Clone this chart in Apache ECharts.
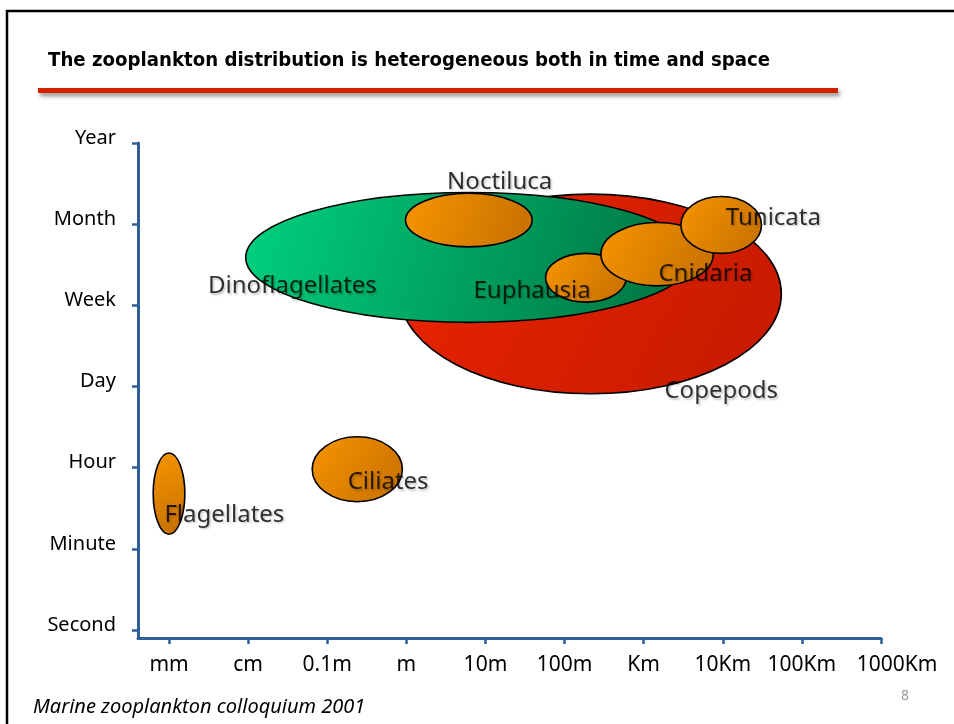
<!DOCTYPE html>
<html>
<head>
<meta charset="utf-8">
<script src="https://cdn.jsdelivr.net/npm/echarts@6/dist/echarts.min.js"></script>
<style>
  html, body { margin: 0; padding: 0; background: #ffffff; }
  #chart { width: 954px; height: 724px; }
</style>
</head>
<body>
<div id="chart"></div>
<script>
// Axis scales (log-like steps of body size and of time)
const sizeScales = ['mm', 'cm', '0.1m', 'm', '10m', '100m', 'Km', '10Km', '100Km', '1000Km'];
const timeScales = ['Second', 'Minute', 'Hour', 'Day', 'Week', 'Month', 'Year'];

// Groups, drawn back to front
const groups      = ['Copepods', 'Dinoflagellates', 'Noctiluca', 'Euphausia', 'Cnidaria', 'Tunicata', 'Ciliates', 'Flagellates'];
// Centre of each group's range, in axis steps
const centerSize  = [5.33, 3.80, 3.79, 5.27, 6.17, 6.98, 2.38, 0.00];
const centerTime  = [4.14, 4.59, 5.05, 4.34, 4.63, 4.99, 1.98, 1.68];
// Half-extent of each group's range, in axis steps
const spreadSize  = [2.41, 2.83, 0.80, 0.51, 0.71, 0.51, 0.57, 0.20];
const spreadTime  = [1.23, 0.80, 0.33, 0.30, 0.39, 0.35, 0.40, 0.50];
// Where each group's name sits, in axis steps
const nameSize    = [6.98, 1.56, 4.18, 4.59, 6.78, 7.64, 2.77, 0.70];
const nameTime    = [2.94, 4.23, 5.52, 4.18, 4.39, 5.08, 1.82, 1.42];

const fills = {
  red:    ['#ea2400', '#c41a00'],
  green:  ['#00d27f', '#006f3e'],
  orange: ['#f79500', '#c46e00']
};
const groupFill = ['red', 'green', 'orange', 'orange', 'orange', 'orange', 'orange', 'orange'];

const axisBlue = '#2e5f96';
const textFont = 'Noto Sans, DejaVu Sans, sans-serif';

const ellipseData = groups.map((g, i) => ({
  name: g,
  value: [centerSize[i], centerTime[i], spreadSize[i], spreadTime[i]],
  fillKey: groupFill[i]
}));
const nameData = groups.map((g, i) => ({ name: g, value: [nameSize[i], nameTime[i]] }));

const chart = echarts.init(document.getElementById('chart'), null, { renderer: 'canvas' });

chart.setOption({
  backgroundColor: '#ffffff',
  animation: false,
  graphic: [
    // slide frame
    { type: 'rect', silent: true, z: 0,
      shape: { x: 7, y: 11, width: 1000, height: 800 },
      style: { fill: 'none', stroke: '#000000', lineWidth: 2.5 } },
    // headline
    { type: 'text', left: 48, top: 51, z: 10,
      style: { text: 'The zooplankton distribution is heterogeneous both in time and space',
               font: 'bold 20.2px "Liberation Sans Narrow", "DejaVu Sans Condensed", sans-serif',
               fill: '#000000' } },
    // red rule under the headline
    { type: 'rect', z: 10,
      shape: { x: 38, y: 88, width: 800, height: 5 },
      style: { fill: '#d42000', shadowColor: 'rgba(0,0,0,0.45)', shadowBlur: 4, shadowOffsetX: 2, shadowOffsetY: 3 } },
    // source line
    { type: 'text', left: 33, top: 697, z: 10,
      style: { text: 'Marine zooplankton colloquium 2001',
               font: 'italic 20px "Noto Sans", sans-serif', fill: '#000000' } },
    // page number
    { type: 'text', left: 901, top: 689, z: 10,
      style: { text: '8', font: '14px "Noto Sans", sans-serif', fill: '#9a9a9a' } }
  ],
  grid: { left: 138, right: 73, top: 143, bottom: 86, containLabel: false },
  xAxis: {
    type: 'value',
    min: -0.392,
    max: 9,
    axisLine: { show: true, onZero: false, lineStyle: { color: axisBlue, width: 3 } },
    axisTick: { show: true, length: 6, customValues: sizeScales.map((s, i) => i),
                lineStyle: { color: axisBlue, width: 2.5 } },
    axisLabel: { customValues: sizeScales.map((s, i) => i), margin: 17,
                 formatter: v => {
                   const i = Math.round(v);
                   return i === sizeScales.length - 1 ? '{last|' + sizeScales[i] + '}' : (sizeScales[i] || '');
                 },
                 rich: { last: { fontSize: 21, fontFamily: textFont, color: '#000000', padding: [0, 0, 0, 32] } },
                 color: '#000000', fontSize: 21, fontFamily: textFont },
    splitLine: { show: false }
  },
  yAxis: {
    type: 'value',
    min: -0.099,
    max: 6,
    axisLine: { show: true, onZero: false, lineStyle: { color: axisBlue, width: 3 } },
    axisTick: { show: true, length: 6, customValues: timeScales.map((s, i) => i),
                lineStyle: { color: axisBlue, width: 2.5 } },
    axisLabel: { customValues: timeScales.map((s, i) => i), margin: 22,
                 formatter: v => timeScales[Math.round(v)] || '',
                 verticalAlign: 'bottom', lineHeight: 10,
                 color: '#000000', fontSize: 20, fontFamily: textFont },
    splitLine: { show: false }
  },
  series: [
    {
      type: 'custom',
      coordinateSystem: 'cartesian2d',
      data: ellipseData,
      z: 2,
      renderItem: function (params, api) {
        const c = api.coord([api.value(0), api.value(1)]);
        const s = api.size([api.value(2), api.value(3)]);
        const key = ellipseData[params.dataIndex].fillKey;
        return {
          type: 'ellipse',
          shape: { cx: c[0], cy: c[1], rx: s[0], ry: s[1] },
          style: {
            fill: new echarts.graphic.LinearGradient(0, 0, 1, 1, [
              { offset: 0, color: fills[key][0] },
              { offset: 1, color: fills[key][1] }
            ]),
            stroke: '#000000',
            lineWidth: 1.6
          }
        };
      }
    },
    {
      type: 'scatter',
      data: nameData,
      symbolSize: 0,
      z: 5,
      label: {
        show: true,
        position: 'inside',
        formatter: p => p.name,
        color: '#000000',
        fontSize: 24,
        fontFamily: textFont,
        textShadowColor: 'rgba(0,0,0,0.28)',
        textShadowBlur: 2,
        textShadowOffsetX: 1.5,
        textShadowOffsetY: 1.5
      }
    }
  ]
});
</script>
</body>
</html>
